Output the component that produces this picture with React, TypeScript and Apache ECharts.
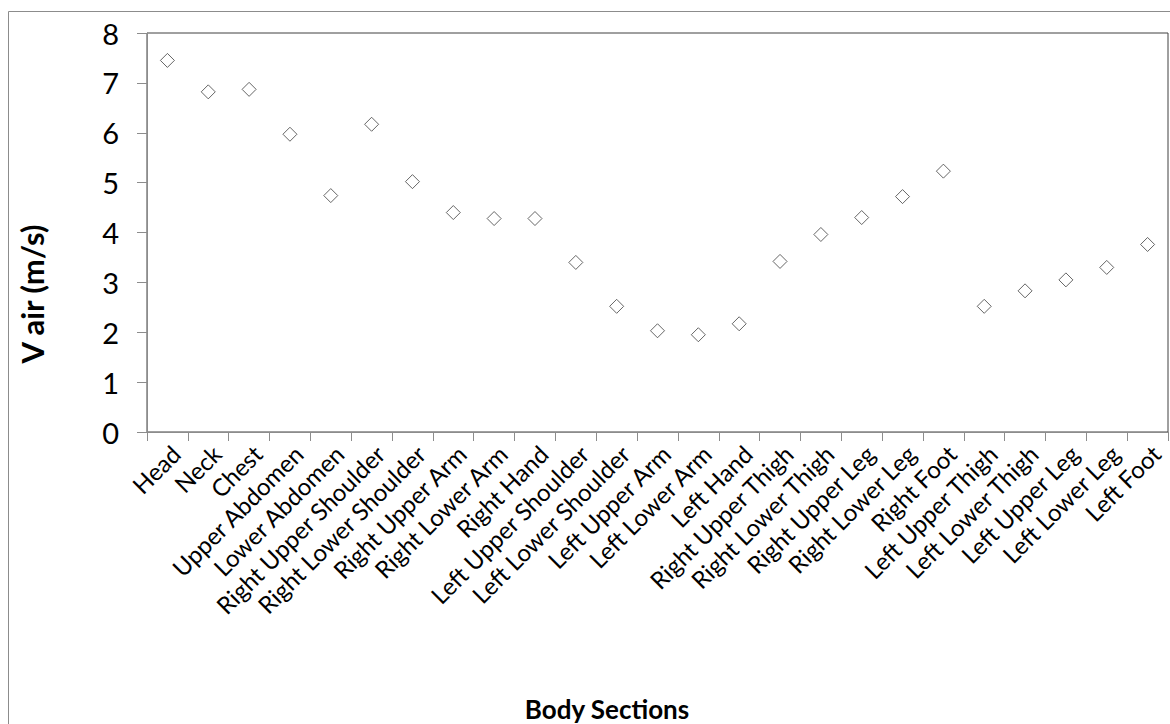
import React, { useEffect, useRef } from "react";
import * as echarts from "echarts";

const categories: string[] = [
  "Head", "Neck", "Chest", "Upper Abdomen", "Lower Abdomen",
  "Right Upper Shoulder", "Right Lower Shoulder", "Right Upper Arm", "Right Lower Arm", "Right Hand",
  "Left Upper Shoulder", "Left Lower Shoulder", "Left Upper Arm", "Left Lower Arm", "Left Hand",
  "Right Upper Thigh", "Right Lower Thigh", "Right Upper Leg", "Right Lower Leg", "Right Foot",
  "Left Upper Thigh", "Left Lower Thigh", "Left Upper Leg", "Left Lower Leg", "Left Foot",
];

const vAir: number[] = [
  7.45, 6.82, 6.87, 5.97, 4.74,
  6.17, 5.02, 4.40, 4.28, 4.28,
  3.40, 2.52, 2.03, 1.95, 2.17,
  3.42, 3.96, 4.30, 4.72, 5.23,
  2.52, 2.83, 3.05, 3.30, 3.76,
];

const yMin = 0;
const yMax = 8;
const yInterval = 1;
const xTitle = "Body Sections";
const yTitle = "V air (m/s)";

const FONT = "Lato, 'Liberation Sans', sans-serif";

export default function App() {
  const ref = useRef<HTMLDivElement>(null);
  useEffect(() => {
    if (!ref.current) return;
    const chart = echarts.init(ref.current, undefined, { renderer: "svg" });
    chart.setOption({
      animation: false,
      backgroundColor: "#ffffff",
      grid: {
        left: 147,
        right: 2,
        top: 33,
        bottom: 292,
        containLabel: false,
        show: true,
        borderColor: "#404040",
        borderWidth: 1,
        backgroundColor: "transparent",
      },
      xAxis: {
        type: "category",
        data: categories,
        boundaryGap: true,
        axisLine: { show: true, lineStyle: { color: "#8c8c8c", width: 1 } },
        axisTick: { show: true, inside: false, length: 9, lineStyle: { color: "#8c8c8c" } },
        splitLine: { show: false },
        axisLabel: {
          interval: 0,
          rotate: 45,
          margin: 9,
          fontSize: 24,
          verticalAlign: "top",
          fontFamily: FONT,
          color: "#000",
        },
      },
      yAxis: {
        type: "value",
        min: yMin,
        max: yMax,
        interval: yInterval,
        axisLine: { show: true, lineStyle: { color: "#8c8c8c", width: 1 } },
        axisTick: { show: true, inside: false, length: 10, lineStyle: { color: "#8c8c8c" } },
        splitLine: { show: false },
        axisLabel: {
          margin: 28,
          fontSize: 29,
          fontFamily: FONT,
          color: "#000",
        },
      },
      series: [
        {
          type: "scatter",
          data: vAir,
          symbol: "diamond",
          symbolSize: 14,
          itemStyle: { color: "#ffffff", borderColor: "#404040", borderWidth: 1 },
        },
      ],
      graphic: [
        {
          type: "rect",
          silent: true,
          shape: { x: 8.5, y: 11.5, width: 1300, height: 900 },
          style: { fill: "none", stroke: "#8c8c8c", lineWidth: 1 },
          z: -1,
        },
        {
          type: "text",
          x: 32,
          y: 294,
          rotation: Math.PI / 2,
          style: {
            text: yTitle,
            fontSize: 31,
            fontWeight: "bold",
            fontFamily: FONT,
            fill: "#000",
            align: "center",
            verticalAlign: "middle",
          },
        },
        {
          type: "text",
          x: 607,
          y: 709,
          style: {
            text: xTitle,
            fontSize: 26,
            fontWeight: "bold",
            fontFamily: FONT,
            fill: "#000",
            align: "center",
            verticalAlign: "middle",
          },
        },
      ],
    });
    return () => chart.dispose();
  }, []);
  return (
    <div
      ref={ref}
      style={{ position: "absolute", left: 0, top: 0, width: 1170, height: 724 }}
    />
  );
}
